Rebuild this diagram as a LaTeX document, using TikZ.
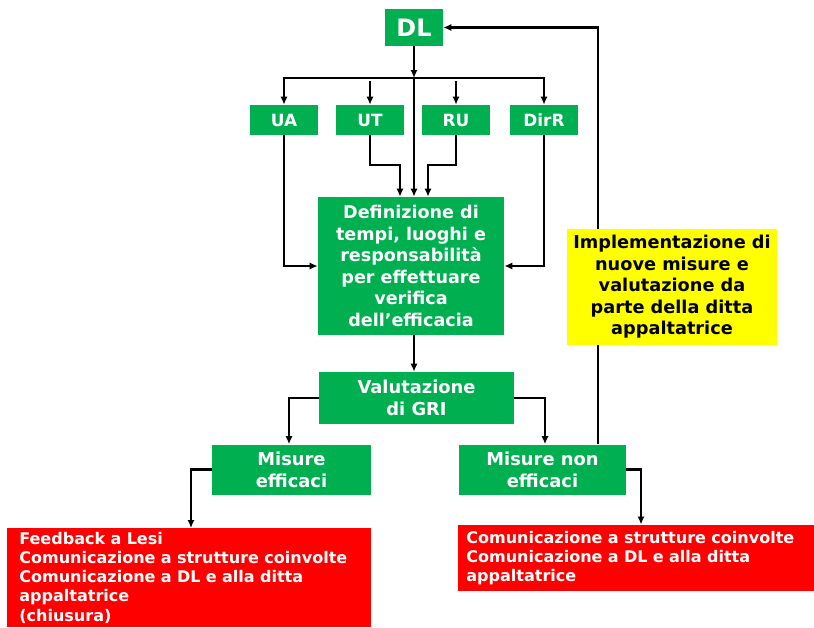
\documentclass[tikz,border=0pt]{standalone}
\usepackage{fontspec}
\setmainfont{DejaVu Sans}
\usepackage{xcolor}
\usetikzlibrary{arrows.meta}
\definecolor{verde}{HTML}{00B050}
\definecolor{giallo}{HTML}{FFFF00}
\definecolor{rosso}{HTML}{FF0000}

\begin{document}
\begin{tikzpicture}[x=0.025cm,y=-0.025cm,
  gr/.style={fill=verde,text=white,font=\bfseries\fontsize{12.7}{15.6}\selectfont,align=center,inner sep=0pt},
  ye/.style={fill=giallo,text=black,font=\bfseries\fontsize{12.6}{15.3}\selectfont,align=center,inner sep=0pt},
  rd/.style={fill=rosso,text=white,font=\bfseries\fontsize{11.4}{13.6}\selectfont,align=left,anchor=north west},
  ar/.style={line width=1.7pt,line join=miter,-{Latex[length=2mm,width=1.8mm]}}]
\useasboundingbox (0,0) rectangle (814,627);
% nodi
\node[gr,minimum width=1.45cm,minimum height=0.925cm,font=\bfseries\fontsize{17}{20}\selectfont] (dl) at (414,27.5) {DL};
\node[gr,minimum width=1.675cm,minimum height=0.75cm,font=\bfseries\fontsize{12}{15}\selectfont] (ua) at (284,120) {UA};
\node[gr,minimum width=1.675cm,minimum height=0.75cm,font=\bfseries\fontsize{12}{15}\selectfont] (ut) at (370,120) {UT};
\node[gr,minimum width=1.675cm,minimum height=0.75cm,font=\bfseries\fontsize{12}{15}\selectfont] (ru) at (456,120) {RU};
\node[gr,minimum width=1.7cm,minimum height=0.75cm,font=\bfseries\fontsize{12}{15}\selectfont] (dirr) at (544,120) {DirR};
\node[gr,minimum width=4.65cm,minimum height=3.45cm,font=\bfseries\fontsize{12.5}{15.3}\selectfont] (def) at (411,266)
  {Definizione di\\tempi, luoghi e\\responsabilità\\per effettuare\\verifica\\dell’efficacia};
\node[gr,minimum width=4.85cm,minimum height=1.3cm] (val) at (416.5,398) {Valutazione\\di GRI};
\node[gr,minimum width=3.975cm,minimum height=1.25cm] (me) at (291.5,469.5) {Misure\\efficaci};
\node[gr,minimum width=4.175cm,minimum height=1.25cm] (mn) at (542.5,469.5) {Misure non\\efficaci};
\node[rd,text width=8.5cm,minimum height=2.475cm,inner xsep=0.3cm,inner ysep=0pt] (rl) at (7,528)
  {Feedback a Lesi\\Comunicazione a strutture coinvolte\\Comunicazione a DL e alla ditta\\appaltatrice\\(chiusura)};
\node[rd,text width=8.5cm,minimum height=1.65cm,inner xsep=0.2cm,inner ysep=0pt] (rr) at (458,524.5)
  {Comunicazione a strutture coinvolte\\Comunicazione a DL e alla ditta\\appaltatrice};
% frecce
\coordinate (bus) at (414,78);
\coordinate (top) at (bus |- def.north);
\draw[ar] (dl.south) -- (bus);
\draw[ar] (bus) -- (top);
\draw[ar] (bus) -| (ua.north);
\draw[ar] (bus) -| (dirr.north);
\draw[ar] ([yshift=-0.08cm]ut.north |- bus) -- (ut.north);
\draw[ar] ([yshift=-0.08cm]ru.north |- bus) -- (ru.north);
\draw[ar] (ua.south) |- (def.west);
\draw[ar] (dirr.south) |- (def.east);
\draw[ar] (ut.south) -- ++(0,30) -| ([xshift=-0.35cm]top);
\draw[ar] (ru.south) -- ++(0,30) -| ([xshift=0.35cm]top);
\draw[ar] (def.south -| top) -- (top |- val.north);
\draw[ar] (val.west) -| (me.north -| 289,0);
\draw[ar] (val.east) -| (mn.north -| 545,0);
\draw[ar] (me.west) -| (rl.north -| 191,0);
\draw[ar] (mn.east) -| (rr.north -| 641,0);
\draw[ar] ([xshift=1.39cm]mn.north) |- (dl.east);
% sopra la linea di ritorno
\node[ye,minimum width=5.25cm,minimum height=2.9cm] (imp) at (672,287)
  {Implementazione di\\nuove misure e\\valutazione da\\parte della ditta\\appaltatrice};
\end{tikzpicture}
\end{document}
